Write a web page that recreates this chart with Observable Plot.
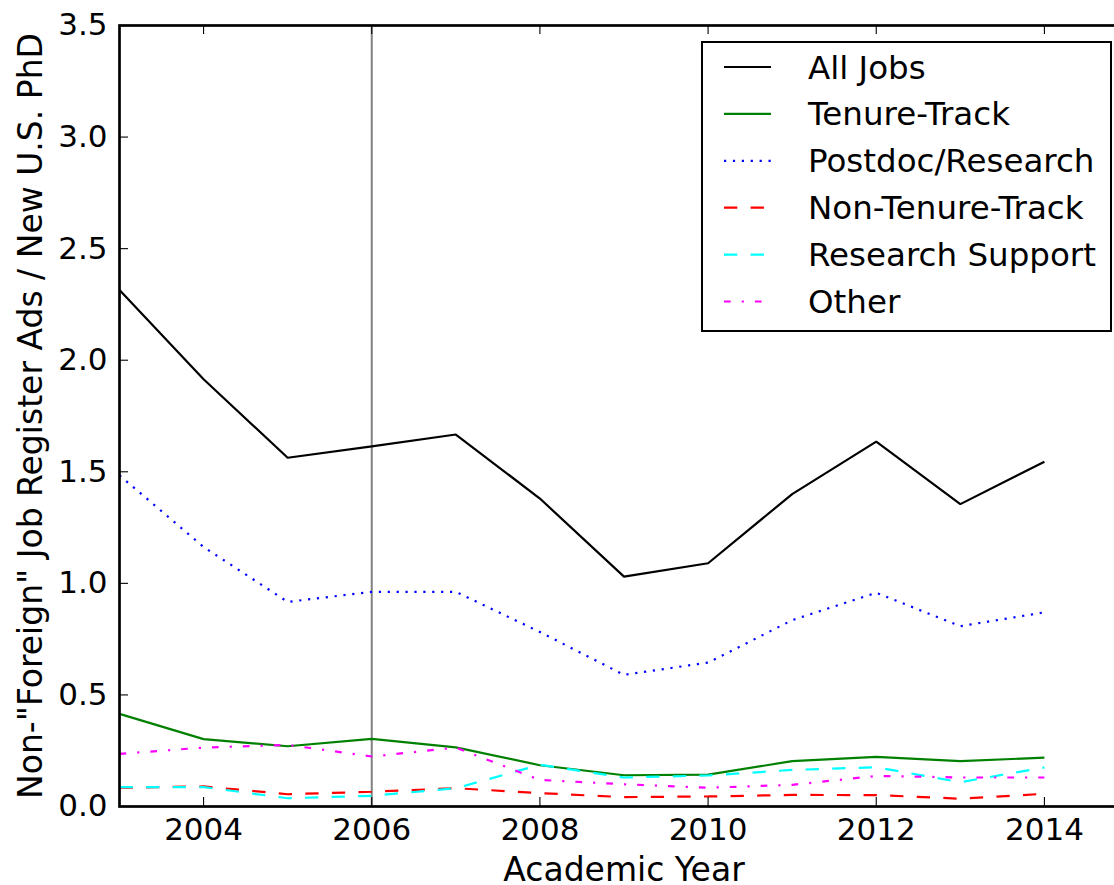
<!DOCTYPE html>
<html><head><meta charset="utf-8">
<script src="https://cdn.jsdelivr.net/npm/d3@7"></script>
<script src="https://cdn.jsdelivr.net/npm/@observablehq/plot@0.6"></script>
<style>
html,body{margin:0;padding:0;background:#fff;overflow:hidden;width:1114px;height:885px;}
#wrap{position:relative;width:1114px;height:885px;overflow:hidden;}
#wrap > svg{max-width:none !important;width:1128px !important;height:885px !important;display:block;}
#legend{position:absolute;left:701px;top:41px;width:407px;height:287px;border:2px solid #000;background:#fff;}
#legend svg{display:block;}
</style></head><body><div id="wrap"></div>
<script>
const years = [2003,2004,2005,2006,2007,2008,2009,2010,2011,2012,2013,2014];
const allJobs = [2.315,1.915,1.563,1.614,1.667,1.38,1.03,1.09,1.40,1.635,1.355,1.545];
const tenureTrack = [0.415,0.302,0.27,0.303,0.265,0.185,0.14,0.143,0.203,0.222,0.203,0.219];
const postdocResearch = [1.484,1.163,0.917,0.962,0.962,0.782,0.59,0.645,0.835,0.958,0.808,0.87];
const nonTenureTrack = [0.084,0.09,0.055,0.066,0.082,0.06,0.042,0.045,0.052,0.051,0.035,0.057];
const researchSupport = [0.087,0.087,0.037,0.048,0.082,0.187,0.13,0.139,0.164,0.176,0.109,0.175];
const other = [0.236,0.264,0.276,0.224,0.264,0.119,0.1,0.084,0.097,0.137,0.13,0.13];

const seriesNames = ["All Jobs","Tenure-Track","Postdoc/Research","Non-Tenure-Track","Research Support","Other"];
const seriesValues = [allJobs, tenureTrack, postdocResearch, nonTenureTrack, researchSupport, other];
const seriesColors = ["#000000","#008000","#0000ff","#ff0000","#00ffff","#ff00ff"];
const seriesDash = [null, null, "2.2,6.7", "13.3,13.3", "13.3,13.3", "6.7,11,2.2,11"];

const xTicks = [2004,2006,2008,2010,2012,2014];
const yTicks = [0,0.5,1,1.5,2,2.5,3,3.5];
const markerYear = 2006;

const W = 1128, H = 885, mL = 119, mR = 0, mT = 25, mB = 79;
const innerW = W - mL - mR, innerH = H - mT - mB;
const tickLen = 9;

const rows = seriesNames.map((name, i) => years.map((y, j) => ({year: y, value: seriesValues[i][j], series: name})));

const marks = [
  Plot.ruleX([markerYear], {x: d => d, stroke: "#808080", strokeWidth: 2}),
  ...rows.map((r, i) => Plot.line(r, {x: "year", y: "value", stroke: seriesColors[i], strokeWidth: 2.2,
      strokeDasharray: seriesDash[i] || undefined, strokeLinecap: "butt", strokeLinejoin: "miter"})),
  Plot.tickX(xTicks, {x: d => d, insetTop: innerH - tickLen, stroke: "#000", strokeWidth: 1.1}),
  Plot.tickX(xTicks, {x: d => d, insetBottom: innerH - tickLen, stroke: "#000", strokeWidth: 1.1}),
  Plot.tickY(yTicks, {y: d => d, insetRight: innerW - tickLen, stroke: "#000", strokeWidth: 1.1}),
  Plot.frame({stroke: "#000", strokeWidth: 2.7}),
  Plot.axisX({ticks: xTicks, tickSize: 0, tickPadding: 11, tickFormat: d => String(d), fontSize: 31, label: null}),
  Plot.axisY({ticks: yTicks, tickSize: 0, tickPadding: 12, tickFormat: d3.format(".1f"), fontSize: 31, label: null}),
  Plot.text(["Academic Year"], {text: d => d, frameAnchor: "bottom", dy: 64, fontSize: 33, lineAnchor: "middle", textAnchor: "middle", fill: "#000"}),
  Plot.text(['Non-"Foreign" Job Register Ads / New U.S. PhD'], {text: d => d, frameAnchor: "left", dx: -88, rotate: -90, fontSize: 33, lineAnchor: "middle", textAnchor: "middle", fill: "#000"})
];

const chart = Plot.plot({
  width: W, height: H,
  marginLeft: mL, marginRight: mR, marginTop: mT, marginBottom: mB,
  x: {domain: [2003, 2015]},
  y: {domain: [0, 3.5]},
  style: {fontFamily: "DejaVu Sans", color: "#000", background: "#fff", overflow: "visible", maxWidth: "none"},
  marks
});
const wrap = document.getElementById("wrap");
wrap.appendChild(chart);

// legend
const leg = document.createElement("div");
leg.id = "legend";
const ns = "http://www.w3.org/2000/svg";
const svg = document.createElementNS(ns, "svg");
svg.setAttribute("width", 407); svg.setAttribute("height", 287);
seriesNames.forEach((name, i) => {
  const cy = 24 + i * 46.9;
  const ln = document.createElementNS(ns, "line");
  ln.setAttribute("x1", 21); ln.setAttribute("x2", 68);
  ln.setAttribute("y1", cy); ln.setAttribute("y2", cy);
  ln.setAttribute("stroke", seriesColors[i]); ln.setAttribute("stroke-width", 2.2);
  if (seriesDash[i]) ln.setAttribute("stroke-dasharray", seriesDash[i]);
  svg.appendChild(ln);
  const tx = document.createElementNS(ns, "text");
  tx.setAttribute("x", 105); tx.setAttribute("y", cy + 11.5);
  tx.setAttribute("font-family", "DejaVu Sans"); tx.setAttribute("font-size", 32.5);
  tx.textContent = name;
  svg.appendChild(tx);
});
leg.appendChild(svg);
wrap.appendChild(leg);
</script></body></html>
